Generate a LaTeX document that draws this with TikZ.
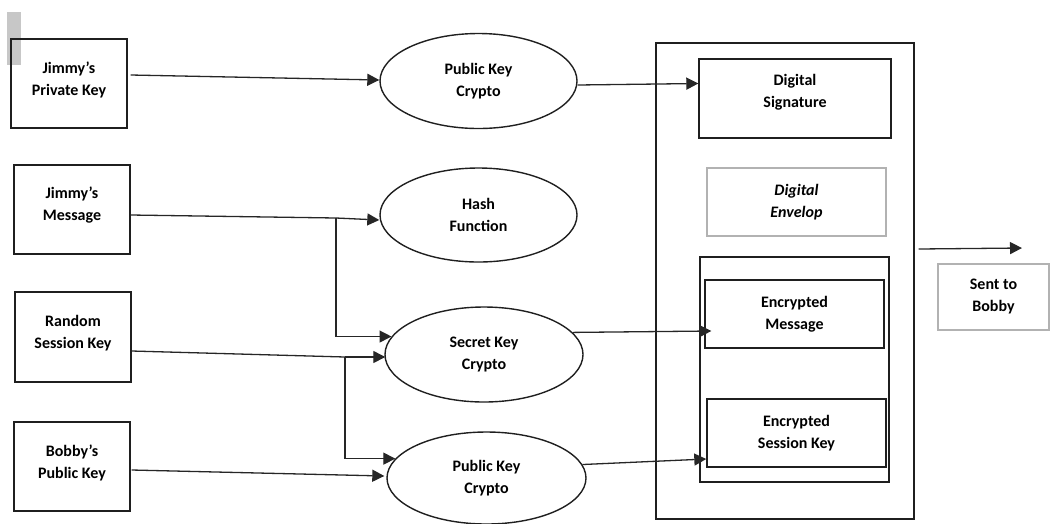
\documentclass[tikz,border=0pt]{standalone}
\usepackage{fontspec}
\setmainfont{Carlito}
\usetikzlibrary{arrows.meta,calc,shapes.geometric}

\begin{document}
\begin{tikzpicture}[x=1pt,y=-1pt,
  every node/.style={font=\fontsize{16}{22}\selectfont\bfseries, align=center, inner sep=0pt},
  box/.style={draw=black!88, line width=1.4pt, minimum width=#1},
  box/.default=116,
  softbox/.style={draw=black!30, line width=1.2pt},
  oval/.style={draw=black!88, line width=1.4pt, ellipse, minimum width=197, minimum height=95},
  txt/.style={},
  wire/.style={draw=black!85, line width=1.3pt},
  arr/.style={wire, -{Triangle[length=12pt,width=12pt]}}
]
\useasboundingbox (0,0) rectangle (1051,523);

% grey tab at the top-left corner
\fill[black!22] (7,12) rectangle (21,65);

% source boxes
\node[box, minimum height=89] (b1) at (69,83.5) {};
\node[txt] (t1) at (69,79.5) {Jimmy’s\\Private Key};
\node[box, minimum height=89] (b2) at (72,209.5) {};
\node[txt] (t2) at (72,205.5) {Jimmy’s\\Message};
\node[box, minimum height=90] (b3) at (73,337) {};
\node[txt] (t3) at (73,333) {Random\\Session Key};
\node[box, minimum height=89] (b4) at (72,466.5) {};
\node[txt] (t4) at (72,462.5) {Bobby’s\\Public Key};

% processing steps
\node[oval] (e1) at (478.5,81) {Public Key\\Crypto};
\node[oval, minimum height=94] (e2) at (478.5,215) {Hash\\Function};
\node[oval, minimum width=198] (e3) at (484,354.5) {Secret Key\\Crypto};
\node[oval, minimum width=199, minimum height=92] (e4) at (486.5,478) {Public Key\\Crypto};

% outgoing package
\node[box=258, minimum height=476] (pack) at (785,281) {};
\node[box=192, minimum height=79] (sig) at (795,98.5) {};
\node[txt] (tsig) at (795,92) {Digital\\Signature};
\node[softbox, minimum width=179, minimum height=68] (env) at (796.5,202)
  {\itshape Digital\\\itshape Envelop};
\node[box=189, minimum height=225] (inner) at (794.5,369.5) {};
\node[box=179, minimum height=68] (msg) at (794.5,314) {Encrypted\\Message};
\node[box=179, minimum height=68] (skey) at (796.5,433) {Encrypted\\Session Key};
\node[softbox, minimum width=111, minimum height=66] (sent) at (993.5,297) {Sent to\\Bobby};
\coordinate (dest) at (1022,248);

% connectors
\coordinate (j1) at (336,218);
\coordinate (j2) at (345,357);

\draw[arr] ($(b1.east)+(3,-8.5)$) -- ($(e1.west)+(0,-1)$);
\draw[wire] ($(b2.east)+(0,5.5)$) -- (j1);
\draw[arr] (j1) -- ($(e2.west)+(0,5)$);
\draw[arr] (j1) |- (e3.169);
\draw[wire] ($(b3.east)+(0,14)$) -- (j2);
\draw[arr] (j2) -- ($(e3.west)+(1,2.5)$);
\draw[arr] (j2) |- (e4.168);
\draw[arr] ($(b4.east)+(1,3.5)$) -- ($(e4.west)+(-2,-2)$);

\draw[arr] ($(e1.east)+(0,4)$) -- ($(sig.west)+(0,-15)$);
\draw[arr] (e3.14) -- ($(msg.west)+(7,17)$);
\draw[arr] (e4.8) -- ($(skey.west)+(0,26)$);
\draw[arr] ($(pack.east)+(4,-32)$) -- (dest);
\end{tikzpicture}
\end{document}
